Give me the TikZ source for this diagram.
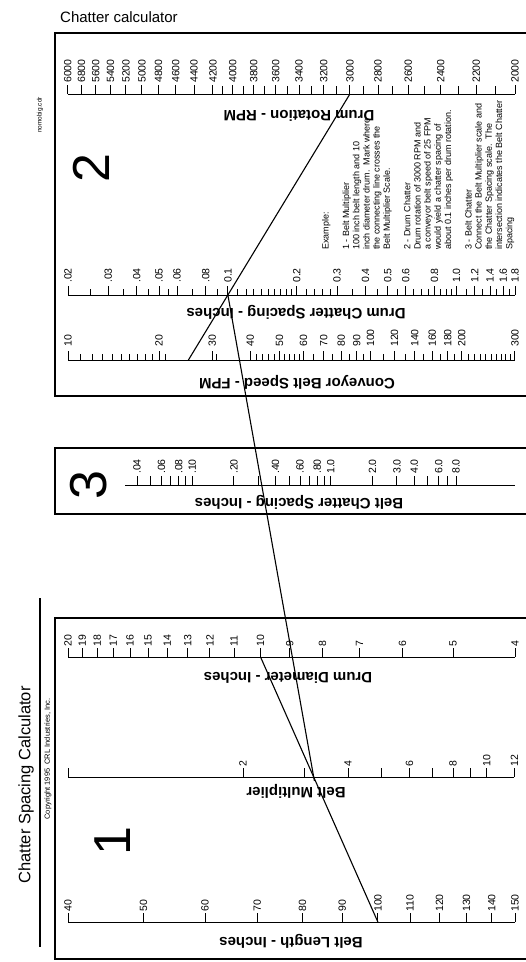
\documentclass[tikz,border=0pt]{standalone}
\usepackage{fontspec}
\setmainfont{Liberation Sans}
\usetikzlibrary{positioning, calc}

\begin{document}
\begin{tikzpicture}[x=1pt, y=-1pt,
    frame/.style={line width=1.8pt},
    axisline/.style={line width=0.9pt},
    keyline/.style={line width=1.1pt},
    sclab/.style={rotate=90, anchor=west, inner sep=0pt, font=\fontsize{10.5}{12}\selectfont},
    axtitle/.style={rotate=180, anchor=base, inner sep=0pt, font=\bfseries\fontsize{15}{18}\selectfont},
    bignum/.style={rotate=90, inner sep=0pt, font=\fontsize{52}{60}\selectfont},
    declare function={
        xrpm(\v)=515-407.2*ln(\v/2000);
        xdc(\v)=68+99.34*ln(\v/0.02);
        xsp(\v)=68+131.4*ln(\v/10);
        xbc(\v)=137+60.2*ln(\v/0.04);
        xdd(\v)=515-277.7*ln(\v/4);
        xbm(\v)=243+151.5*ln(\v/2);
        xbl(\v)=68+338.2*ln(\v/40);
    }]

    \useasboundingbox (0,0) rectangle (526,962);
    \fill[white] (0,0) rectangle (526,962);

    % headings
    \node[anchor=base west, inner sep=0pt, font=\fontsize{15}{18}\selectfont] (head) at (60,22) {Chatter calculator};
    \node[rotate=90, inner sep=0pt, font=\fontsize{6.5}{8}\selectfont] (file) at (40,115) {nomobig.cdr};
    \node[rotate=90, inner sep=0pt, font=\fontsize{16.5}{20}\selectfont] (title) at (26,785) {Chatter Spacing Calculator};
    \node[rotate=90, inner sep=0pt, font=\fontsize{7.5}{9}\selectfont] (copy) at (48,759) {Copyright 1995\ \ CRL Industries, Inc.};
    \draw[frame] (40,598) -- (40,947);

    % panels
    \draw[frame] (55,33) rectangle (532,396);
    \draw[frame] (55,448) rectangle (532,514);
    \draw[frame] (55,618) rectangle (532,959);
    \node[bignum] (n2) at (91,168) {2};
    \node[bignum] (n3) at (89,485) {3};
    \node[bignum] (n1) at (113,841) {1};

    % drum rotation
    \draw[axisline] ({xrpm(6000)},94) -- ({xrpm(2000)},94);
    \foreach \v/\t in {6000/6000,5800/6800,5600/5600,5400/5400,5200/5200,5000/5000,
        4800/4800,4600/4600,4400/4400,4200/4200,4000/4000,3800/3800,3600/3600,
        3400/3400,3200/3200,3000/3000,2800/2800,2600/2600,2400/2400,2200/2200,2000/2000} {
        \draw[axisline] ({xrpm(\v)},94) -- ++(0,-9);
        \node[sclab] (r\v) at ({xrpm(\v)},83) {\t};
    }
    \foreach \v in {2100,2300,...,4100}
        \draw[axisline] ({xrpm(\v)},94) -- ++(0,-8);
    \node[axtitle] (rpm) at (299,110) {Drum Rotation - RPM};

    % drum chatter
    \draw[axisline] ({xdc(0.02)},295) -- ({xdc(1.8)},295);
    \foreach \v/\t [count=\i] in {0.02/.02,0.03/.03,0.04/.04,0.05/.05,0.06/.06,0.08/.08,
        0.1/0.1,0.2/0.2,0.3/0.3,0.4/0.4,0.5/0.5,0.6/0.6,0.8/0.8,1/1.0,1.2/1.2,1.4/1.4,
        1.6/1.6,1.8/1.8} {
        \draw[axisline] ({xdc(\v)},295) -- ++(0,-9);
        \node[sclab] (dc\i) at ({xdc(\v)},283) {\t};
    }
    \foreach \v in {0.025,0.035,0.045,0.055,0.07,0.09,0.11,0.12,0.13,0.14,0.15,0.16,
        0.17,0.18,0.19,0.22,0.24,0.26,0.28,0.35,0.45,0.55,0.65,0.7,0.75,0.85,0.9,0.95,
        1.1,1.3,1.5,1.7}
        \draw[axisline] ({xdc(\v)},295) -- ++(0,-6);
    \node[axtitle] (dct) at (296,308) {Drum Chatter Spacing - Inches};

    % conveyor speed
    \draw[axisline] ({xsp(10)},360) -- ({xsp(300)},360);
    \foreach \v in {10,20,...,100,120,140,...,200,300} {
        \draw[axisline] ({xsp(\v)},360) -- ++(0,-9);
        \node[sclab] (s\v) at ({xsp(\v)},347) {\v};
    }
    \foreach \v in {11,...,19,21,...,29,31,...,39,42,44,46,48,52,54,56,58,65,75,85,95,
        110,130,150,170,190,210,220,...,290}
        \draw[axisline] ({xsp(\v)},360) -- ++(0,-6);
    \node[axtitle] (spt) at (297,378) {Conveyor Belt Speed - FPM};

    % belt chatter
    \draw[axisline] (125,485) -- (515,485);
    \foreach \v/\t [count=\i] in {0.04/.04,0.06/.06,0.08/.08,0.1/.10,0.2/.20,0.4/.40,
        0.6/.60,0.8/.80,1/1.0,2/2.0,3/3.0,4/4.0,6/6.0,8/8.0} {
        \draw[axisline] ({xbc(\v)},485) -- ++(0,-9);
        \node[sclab] (bc\i) at ({xbc(\v)},474) {\t};
    }
    \foreach \v in {0.05,0.07,0.09,0.3,0.5,0.7,0.9,5,7}
        \draw[axisline] ({xbc(\v)},485) -- ++(0,-9);
    \node[axtitle] (bct) at (299,498) {Belt Chatter Spacing - Inches};

    % drum diameter
    \draw[axisline] ({xdd(20)},657) -- ({xdd(4)},657);
    \foreach \v in {4,...,20} {
        \draw[axisline] ({xdd(\v)},657) -- ++(0,-9);
        \node[sclab] (dd\v) at ({xdd(\v)},647) {\v};
    }
    \node[axtitle] (ddt) at (288,672) {Drum Diameter - Inches};

    % belt multiplier
    \draw[axisline] (68,777) -- ({xbm(12)},777);
    \draw[axisline] (68,777) -- ++(0,-9);
    \foreach \v in {2,4,...,12} {
        \draw[axisline] ({xbm(\v)},777) -- ++(0,-9);
        \node[sclab] (bm\v) at ({xbm(\v)},767) {\v};
    }
    \foreach \v in {3,5,7,9}
        \draw[axisline] ({xbm(\v)},777) -- ++(0,-9);
    \node[axtitle] (bmt) at (296,787) {Belt Multiplier};

    % belt length
    \draw[axisline] ({xbl(40)},922) -- ({xbl(150)},922);
    \foreach \v in {40,50,...,150} {
        \draw[axisline] ({xbl(\v)},922) -- ++(0,-9);
        \node[sclab] (bl\v) at ({xbl(\v)},912) {\v};
    }
    \node[axtitle] (blt) at (291,937) {Belt Length - Inches};

    % worked example
    \node[rotate=90, anchor=north west, align=left, inner sep=0pt,
          font=\fontsize{9}{10.2}\selectfont] (howto) at (322,250)
        {Example:\\[10.2pt]
         1 - Belt Multiplier\\
         100 inch belt length and 10\\
         inch diameter drum.\ \ Mark where\\
         the connecting line crosses the\\
         Belt Multiplier Scale.\\[10.2pt]
         2 - Drum Chatter\\
         Drum rotation of 3000 RPM and\\
         a conveyor belt speed of 25 FPM\\
         would yield a chatter spacing of\\
         about 0.1 inches per drum rotation.\\[10.2pt]
         3 - Belt Chatter\\
         Connect the Belt Multiplier scale and\\
         the Chatter Spacing scale.\ \ The\\
         intersection indicates the Belt Chatter\\
         Spacing};

    \coordinate (r3000) at ({xrpm(3000)},94);
    \coordinate (s25) at ({xsp(25)},360);
    \coordinate (d01) at ({xdc(0.1)},295);
    \coordinate (l100) at ({xbl(100)},922);
    \coordinate (d10) at ({xdd(10)},657);
    \coordinate (m32) at ($(l100)!0.547!(d10)$);
    \draw[keyline] (r3000) -- (s25);
    \draw[keyline] (l100) -- (d10);
    \draw[keyline, shorten >=-4pt] (d01) -- (m32);
\end{tikzpicture}
\end{document}
